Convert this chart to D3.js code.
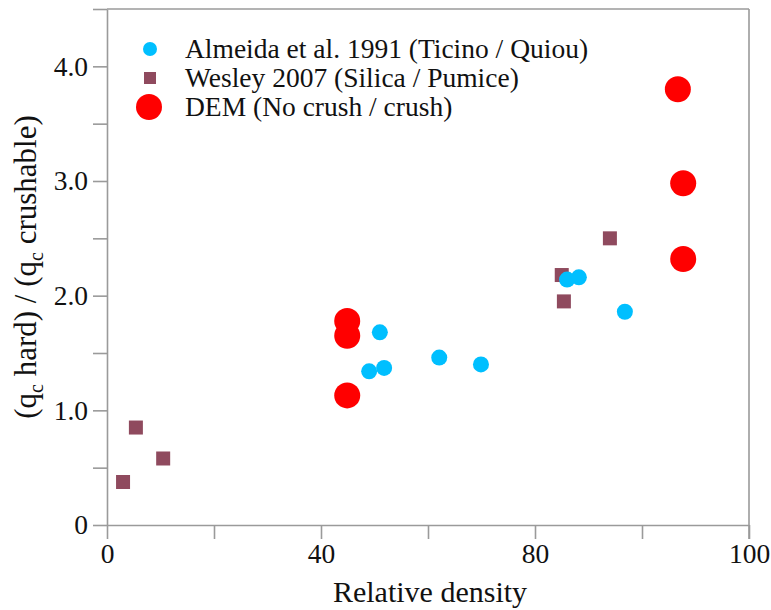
<!DOCTYPE html>
<html>
<head>
<meta charset="utf-8">
<script src="https://cdn.jsdelivr.net/npm/d3@7"></script>
<style>
  body { margin: 0; background: #fff; }
  text { font-family: "Liberation Serif", "Times New Roman", serif; fill: #111; }
</style>
</head>
<body>
<div id="chart"></div>
<script>
// relative density / ratio readings
const almeidaX = [49.0, 51.0, 51.8, 62.1, 69.9, 86.0, 88.2, 96.8];
const almeidaY = [1.34, 1.68, 1.37, 1.46, 1.40, 2.14, 2.16, 1.86];
const wesleyX = [3.0, 5.4, 10.5, 85.0, 85.4, 94.0];
const wesleyY = [0.375, 0.85, 0.58, 2.18, 1.95, 2.50];
const demX = [44.9, 44.9, 44.9, 106.7, 107.7, 107.7];
const demY = [1.78, 1.65, 1.13, 3.80, 2.98, 2.32];

const xTicks = [0, 20, 40, 60, 80, 100, 120];
const xTickLabels = ["0", "", "40", "", "80", "", "100"];
const yTicks = [0, 0.5, 1, 1.5, 2, 2.5, 3, 3.5, 4, 4.5];
const yTickLabels = ["0", "", "1.0", "", "2.0", "", "3.0", "", "4.0", ""];

const legendLabels = [
    "Almeida et al. 1991 (Ticino / Quiou)",
    "Wesley 2007 (Silica / Pumice)",
    "DEM (No crush / crush)"
];
const COLORS = ["#00bfff", "#8f4a5e", "#ff0000"];

const W = 771, H = 610;
const margin = { top: 9, right: 22, bottom: 85, left: 107 };

const svg = d3.select("#chart").append("svg")
    .attr("width", W)
    .attr("height", H);

const x = d3.scaleLinear().domain([0, 120]).range([margin.left, W - margin.right]);
const y = d3.scaleLinear().domain([0, 4.5]).range([H - margin.bottom, margin.top]);

const AXIS = "#9a9a9a";

// axes
const gx = svg.append("g")
    .attr("transform", `translate(0,${y(0)})`)
    .call(d3.axisBottom(x).tickValues(xTicks).tickSize(14).tickSizeOuter(0).tickPadding(4)
        .tickFormat((d, i) => xTickLabels[i]));
const gy = svg.append("g")
    .attr("transform", `translate(${x(0)},0)`)
    .call(d3.axisLeft(y).tickValues(yTicks).tickSize(14).tickSizeOuter(0).tickPadding(5)
        .tickFormat((d, i) => yTickLabels[i]));

[gx, gy].forEach(g => {
    g.select(".domain").attr("stroke", AXIS).attr("stroke-width", 1.6);
    g.selectAll(".tick line").attr("stroke", AXIS).attr("stroke-width", 1.6);
    g.selectAll(".tick text")
        .style("font-family", '"Liberation Serif", "Times New Roman", serif')
        .style("font-size", "27.5px")
        .attr("fill", "#111");
});

// frame top / right
svg.append("line")
    .attr("x1", x(0)).attr("x2", x(120)).attr("y1", y(4.5)).attr("y2", y(4.5))
    .attr("stroke", AXIS).attr("stroke-width", 1.6);
svg.append("line")
    .attr("x1", x(120)).attr("x2", x(120)).attr("y1", y(4.5)).attr("y2", y(0) + 14)
    .attr("stroke", AXIS).attr("stroke-width", 1.6);

// axis titles
svg.append("text")
    .attr("x", 430)
    .attr("y", 602)
    .attr("text-anchor", "middle")
    .style("font-size", "30px")
    .text("Relative density");

const yl = svg.append("text")
    .attr("transform", `translate(36,${y(2.25)}) rotate(-90)`)
    .attr("text-anchor", "middle")
    .style("font-size", "31px");
yl.append("tspan").text("(q");
yl.append("tspan").attr("dy", 7).style("font-size", "20px").text("c");
yl.append("tspan").attr("dy", -7).text(" hard) / (q");
yl.append("tspan").attr("dy", 7).style("font-size", "20px").text("c");
yl.append("tspan").attr("dy", -7).text(" crushable)");

// data
const almeida = almeidaX.map((v, i) => ({ x: v, y: almeidaY[i] }));
const wesley = wesleyX.map((v, i) => ({ x: v, y: wesleyY[i] }));
const dem = demX.map((v, i) => ({ x: v, y: demY[i] }));

svg.append("g").selectAll("rect")
    .data(wesley)
    .join("rect")
    .attr("x", d => x(d.x) - 7)
    .attr("y", d => y(d.y) - 7)
    .attr("width", 14)
    .attr("height", 14)
    .attr("fill", COLORS[1]);

svg.append("g").selectAll("circle")
    .data(almeida)
    .join("circle")
    .attr("cx", d => x(d.x))
    .attr("cy", d => y(d.y))
    .attr("r", 8)
    .attr("fill", COLORS[0]);

svg.append("g").selectAll("circle")
    .data(dem)
    .join("circle")
    .attr("cx", d => x(d.x))
    .attr("cy", d => y(d.y))
    .attr("r", 13)
    .attr("fill", COLORS[2]);

// legend
const lg = svg.append("g");
const rowY = [49, 78, 107];
lg.append("circle").attr("cx", 150).attr("cy", rowY[0]).attr("r", 7).attr("fill", COLORS[0]);
lg.append("rect").attr("x", 144).attr("y", rowY[1] - 6).attr("width", 12).attr("height", 12).attr("fill", COLORS[1]);
lg.append("circle").attr("cx", 149).attr("cy", rowY[2]).attr("r", 13).attr("fill", COLORS[2]);
lg.selectAll("text")
    .data(legendLabels)
    .join("text")
    .attr("x", 185)
    .attr("y", (d, i) => rowY[i] + 9)
    .style("font-size", "27.5px")
    .text(d => d);
</script>
</body>
</html>
